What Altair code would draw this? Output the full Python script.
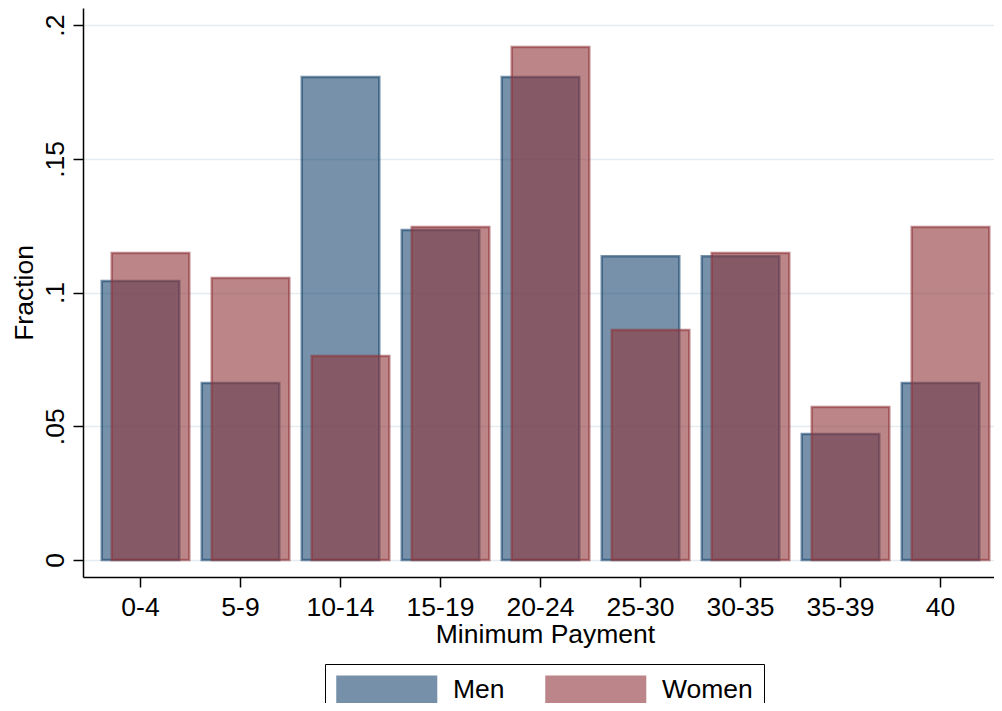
import altair as alt
import pandas as pd

categories = ["0-4", "5-9", "10-14", "15-19", "20-24", "25-30", "30-35", "35-39", "40"]
men = [0.1043, 0.0662, 0.1806, 0.1234, 0.1806, 0.1136, 0.1136, 0.0471, 0.0662]
women = [0.1148, 0.1054, 0.0763, 0.1245, 0.1918, 0.0860, 0.1148, 0.0572, 0.1245]
groups = ["Men", "Women"]
colors = ["#1a476f", "#90353b"]

df = pd.DataFrame(
    {
        "cat": categories * 2,
        "sex": ["Men"] * len(categories) + ["Women"] * len(categories),
        "frac": men + women,
    }
)

FONT = "Liberation Sans"
FS = 26.5

legend = alt.Legend(
    orient="none",
    legendX=242,
    legendY=656,
    direction="horizontal",
    title=None,
    symbolType="M-1,-1H6.3V1H-1Z",
    symbolSize=729,
    symbolStrokeWidth=2.5,
    symbolOpacity=0.6,
    labelFontSize=FS,
    labelFont=FONT,
    labelColor="black",
    labelOffset=87,
    columnPadding=36,
    padding=11,
    strokeColor="black",
    fillColor="white",
)

cscale = alt.Scale(domain=groups, range=colors)

x = alt.X(
    "cat:N",
    sort=categories,
    scale=alt.Scale(paddingInner=0.225, paddingOuter=0.1675, align=0.56),
    axis=alt.Axis(
        title="Minimum Payment",
        labelAngle=0,
        labelFontSize=FS,
        labelFont=FONT,
        labelColor="black",
        labelBaseline="alphabetic",
        labelPadding=28,
        tickSize=10,
        tickColor="black",
        tickWidth=1.5,
        domainColor="black",
        domainWidth=1.5,
        grid=False,
        titleFontSize=FS,
        titleFont=FONT,
        titleFontWeight="normal",
        titleColor="black",
        titleBaseline="alphabetic",
        titleAnchor="middle",
        titleX=462,
        titleY=65,
    ),
)

y = alt.Y(
    "frac:Q",
    scale=alt.Scale(domain=[-0.00636, 0.2064], nice=False, zero=False),
    axis=alt.Axis(
        title="Fraction",
        values=[0, 0.05, 0.1, 0.15, 0.2],
        labelExpr="replace(toString(datum.value), '0.', '.')",
        labelAngle=270,
        labelAlign="center",
        labelBaseline="alphabetic",
        labelPadding=10,
        labelFontSize=FS,
        labelFont=FONT,
        labelColor="black",
        tickSize=10,
        tickColor="black",
        tickWidth=1.5,
        domainColor="black",
        domainWidth=1.5,
        grid=True,
        gridColor="#e3ecf0",
        gridWidth=1.5,
        titleFontSize=FS,
        titleFont=FONT,
        titleFontWeight="normal",
        titleColor="black",
        titleAngle=270,
        titleBaseline="alphabetic",
        titleAlign="center",
        titleX=-51,
        titleY=284.5,
    ),
)

base = alt.Chart(df).encode(
    x=x,
    y=y,
    y2=alt.datum(0),
    fill=alt.Fill("sex:N", scale=cscale, legend=legend),
    stroke=alt.Stroke("sex:N", scale=cscale, legend=legend),
)

men_layer = base.transform_filter(alt.datum.sex == "Men").mark_bar(
    fillOpacity=0.6, strokeOpacity=0.6, strokeWidth=2.5
)
women_layer = base.transform_filter(alt.datum.sex == "Women").mark_bar(
    fillOpacity=0.6, strokeOpacity=0.6, strokeWidth=2.5, xOffset=10
)

chart = (
    alt.layer(men_layer, women_layer)
    .properties(
        width=911,
        height=569,
        padding={"left": 75, "top": 0, "right": 0, "bottom": 126},
        autosize=alt.AutoSizeParams(type="none"),
        background="white",
    )
    .configure_view(stroke=None)
)

chart.save("out.html", embed_options={"renderer": "svg", "actions": False})
